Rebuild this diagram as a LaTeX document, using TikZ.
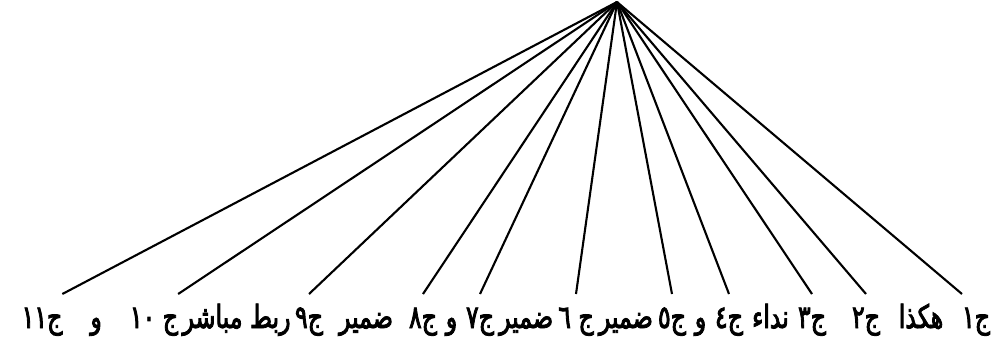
\documentclass[tikz,border=0pt]{standalone}
\usepackage{fontspec}
\newfontfamily\arabicfont[Script=Arabic, FakeStretch=0.74, FakeBold=2.6]{DejaVu Sans}
\TeXXeTstate=1
\usepackage{tikz}
\usetikzlibrary{positioning,calc}

\begin{document}
\begin{tikzpicture}[x=1pt, y=-1pt,
  word/.style={inner sep=0pt, outer sep=0pt, text height=34pt, text depth=12pt,
               anchor=base, font=\arabicfont\fontsize{32}{36}\selectfont},
  lbl/.style={word},
  link/.style={line width=2.1pt, black},
]
\useasboundingbox (0,0) rectangle (996,349);

\coordinate (root) at (617,2);

% labels under the line ends
\node[lbl] (j1)  at (976,328) {\beginR ج١\endR};
\node[lbl] (j2)  at (866,328) {\beginR ج٢\endR};
\node[lbl] (j3)  at (812,328) {\beginR ج٣\endR};
\node[lbl] (j4)  at (729,328) {\beginR ج٤\endR};
\node[lbl] (j5)  at (672,328) {\beginR ج٥\endR};
\node[lbl] (j6)  at (576,328) {\beginR ج ٦\endR};
\node[lbl] (j7)  at (480,328) {\beginR ج٧\endR};
\node[lbl] (j8)  at (423,328) {\beginR ج٨\endR};
\node[lbl] (j9)  at (309,328) {\beginR ج٩\endR};
\node[lbl] (j10) at (154,328) {\beginR ج ١٠\endR};
\node[lbl] (j11) at (42,328)  {\beginR ج١١\endR};

% words in between
\node[word] (w1) at ($(j1.base west)!0.5!(j2.base east)$)   {\beginR هكذا\endR};
\node[word] (w2) at ($(j3.base west)!0.5!(j4.base east)$)   {\beginR نداء\endR};
\node[word] (w3) at ($(j4.base west)!0.5!(j5.base east)$)   {\beginR و\endR};
\node[word] (w4) at ($(j5.base west)!0.5!(j6.base east)$)   {\beginR ضمير\endR};
\node[word] (w5) at ($(j6.base west)!0.5!(j7.base east)$)   {\beginR ضمير\endR};
\node[word] (w6) at ($(j7.base west)!0.5!(j8.base east)$)   {\beginR و\endR};
\node[word] (w7) at ($(j8.base west)!0.5!(j9.base east)$)   {\beginR ضمير\endR};
\node[word] (w8) at ($(j9.base west)!0.5!(j10.base east)$)  {\beginR ربط مباشر\endR};
\node[word] (w9) at ($(j10.base west)!0.5!(j11.base east)$) {\beginR و\endR};

\draw[link] (root) -- (j1.north west);
\draw[link] (root) -- (j2.north);
\draw[link] (root) -- (j3.north);
\draw[link] (root) -- (j4.north);
\draw[link] (root) -- (j5.north);
\draw[link] (root) -- (j6.north);
\draw[link] (root) -- (j7.north);
\draw[link] (root) -- (j8.north);
\draw[link] (root) -- (j9.north);
\draw[link] (root) -- (j10.north east);
\draw[link] (root) -- (j11.north east);
\end{tikzpicture}
\end{document}
